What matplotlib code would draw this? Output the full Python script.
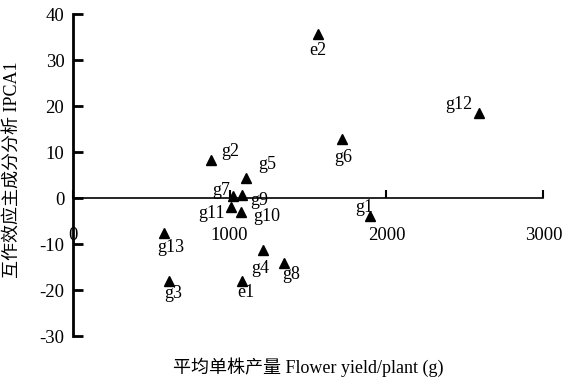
import matplotlib.pyplot as plt

plt.rcParams['font.family'] = ['Liberation Serif', 'Noto Sans CJK SC']
plt.rcParams['axes.unicode_minus'] = False

# points (genotypes g1-g13, environments e1-e2)
names = ['e2', 'g12', 'g6', 'g2', 'g5', 'g7', 'g9', 'g11', 'g10',
         'g1', 'g13', 'g4', 'g8', 'g3', 'e1']
yields = [1565, 2591, 1718, 880, 1105, 1024, 1081, 1007, 1071,
          1895, 582, 1211, 1347, 612, 1079]
ipca1 = [35.7, 18.5, 12.8, 8.3, 4.4, 0.5, 0.8, -1.9, -3.0,
         -3.9, -7.5, -11.3, -14.1, -18.0, -18.0]

# label offsets in points
offsets = {'e2': (0, -12), 'g12': (-15, 6), 'g6': (1, -13), 'g2': (14, 6),
           'g5': (15, 10), 'g7': (-9, 4), 'g9': (12, -4), 'g11': (-14, -5),
           'g10': (19, -3), 'g1': (-4, 6), 'g13': (5, -11), 'g4': (-2, -13),
           'g8': (5, -8), 'g3': (3, -9), 'e1': (3, -8)}

xticks = [0, 1000, 2000, 3000]
yticks = [-30, -20, -10, 0, 10, 20, 30, 40]

fig = plt.figure(figsize=(5.66, 3.78), dpi=100)
ax = fig.add_axes([0.1284, 0.111, 0.8316, 0.851])

ax.plot(yields, ipca1, '^', color='black', markersize=6.5, linestyle='none')
for n, x, y in zip(names, yields, ipca1):
    dx, dy = offsets[n]
    ax.annotate(n, (x, y), xytext=(dx, dy), textcoords='offset points',
                ha='center', va='center', fontsize=13)

ax.set_xlim(0, 3000)
ax.set_ylim(-30, 40)
ax.set_xticks(xticks)
ax.set_yticks(yticks)

ax.spines['top'].set_visible(False)
ax.spines['right'].set_visible(False)
ax.spines['bottom'].set_position(('data', 0))
ax.spines['bottom'].set_linewidth(1.2)
ax.spines['left'].set_linewidth(2)

ax.tick_params(axis='y', direction='in', length=7, width=2, pad=6, labelsize=13.5)
ax.tick_params(axis='x', direction='in', length=6, width=1.5, pad=21, labelsize=13.5)

ax.set_ylabel('互作效应主成分分析 IPCA1', fontsize=13, va='center')
ax.yaxis.set_label_coords(-0.128, 0.516)
ax.set_xlabel('平均单株产量 Flower yield/plant (g)', fontsize=13, va='top')
ax.xaxis.set_label_coords(0.5, -0.065)

fig.savefig('out.png', dpi=100)
